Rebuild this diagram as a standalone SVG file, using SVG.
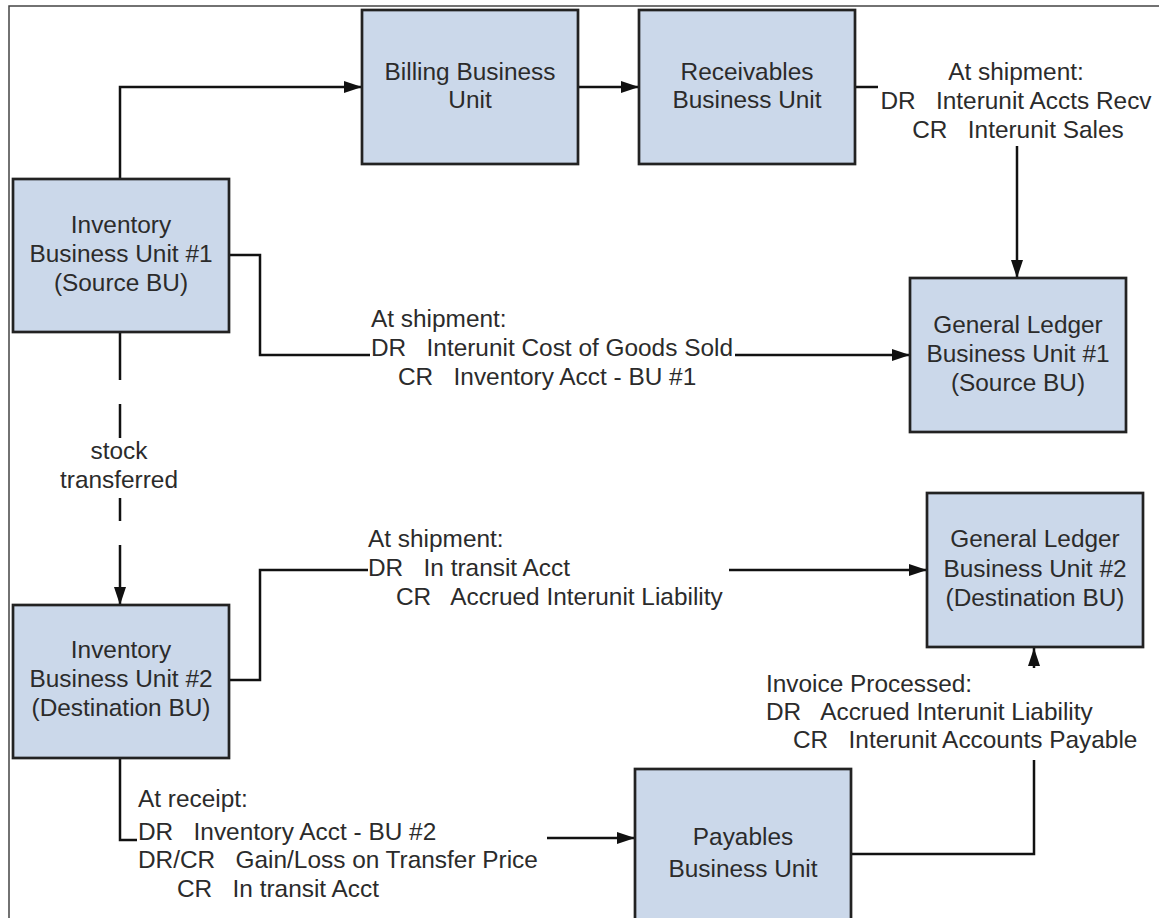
<svg xmlns="http://www.w3.org/2000/svg" width="1159" height="918" viewBox="0 0 1159 918">
<style>
.box{fill:#cbd8ea;stroke:#222;stroke-width:2.7}
.t{font-family:"Liberation Sans",Arial,sans-serif;font-size:24.4px;fill:#2b2b2b;white-space:pre}
.c{text-anchor:middle}
.ln{fill:none;stroke:#111;stroke-width:2.5}
.frame{fill:none;stroke:#444;stroke-width:1.5}
</style>
<defs>
<marker id="ah" viewBox="0 0 18 12" markerWidth="18" markerHeight="12" refX="18" refY="6" orient="auto" markerUnits="userSpaceOnUse">
<path d="M0,0 L18,6 L0,12 z" fill="#111"/>
</marker>
</defs>
<rect width="1159" height="918" fill="#fff"/>
<path class="frame" d="M9,918 V6 H1159"/>

<g id="connectors">
<path class="ln" d="M120,179 V87 H362" marker-end="url(#ah)"/>
<path class="ln" d="M578,87 H639" marker-end="url(#ah)"/>
<path class="ln" d="M855,87 H878"/>
<path class="ln" d="M1017,146 V278" marker-end="url(#ah)"/>
<path class="ln" d="M229,255 H260 V355 H370"/>
<path class="ln" d="M735,355 H910" marker-end="url(#ah)"/>
<path class="ln" d="M120,332 V380 M120,404 V438 M120,498 V521 M120,545 V605" marker-end="url(#ah)"/>
<path class="ln" d="M229,680 H260 V570 H368"/>
<path class="ln" d="M729,570 H927" marker-end="url(#ah)"/>
<path class="ln" d="M120,758 V840 H137"/>
<path class="ln" d="M547,838 H635" marker-end="url(#ah)"/>
<path class="ln" d="M851,854 H1034 V760"/>
<path class="ln" d="M1034,668 V648" marker-end="url(#ah)"/>
</g>

<g id="inv1">
<rect class="box" x="13" y="179" width="216" height="153"/>
<text class="t c" x="121" y="233">Inventory</text>
<text class="t c" x="121" y="262">Business Unit #1</text>
<text class="t c" x="121" y="291">(Source BU)</text>
</g>
<g id="billing">
<rect class="box" x="362" y="10" width="216" height="154"/>
<text class="t c" x="470" y="80">Billing Business</text>
<text class="t c" x="470" y="108">Unit</text>
</g>
<g id="receivables">
<rect class="box" x="639" y="10" width="216" height="154"/>
<text class="t c" x="747" y="80">Receivables</text>
<text class="t c" x="747" y="108">Business Unit</text>
</g>
<g id="gl1">
<rect class="box" x="910" y="278" width="216" height="154"/>
<text class="t c" x="1018" y="333">General Ledger</text>
<text class="t c" x="1018" y="362">Business Unit #1</text>
<text class="t c" x="1018" y="391">(Source BU)</text>
</g>
<g id="inv2">
<rect class="box" x="13" y="605" width="216" height="153"/>
<text class="t c" x="121" y="658">Inventory</text>
<text class="t c" x="121" y="687">Business Unit #2</text>
<text class="t c" x="121" y="716">(Destination BU)</text>
</g>
<g id="gl2">
<rect class="box" x="927" y="493" width="216" height="154"/>
<text class="t c" x="1035" y="547">General Ledger</text>
<text class="t c" x="1035" y="577">Business Unit #2</text>
<text class="t c" x="1035" y="606">(Destination BU)</text>
</g>
<g id="payables">
<rect class="box" x="635" y="769" width="216" height="154"/>
<text class="t c" x="743" y="845">Payables</text>
<text class="t c" x="743" y="877">Business Unit</text>
</g>

<g id="labels">
<text class="t c" x="1016" y="80">At shipment:</text>
<text class="t c" x="1016" y="109" xml:space="preserve">DR   Interunit Accts Recv</text>
<text class="t c" x="1018" y="138" xml:space="preserve">CR   Interunit Sales</text>

<text class="t" x="371" y="327">At shipment:</text>
<text class="t" x="371" y="356" xml:space="preserve">DR   Interunit Cost of Goods Sold</text>
<text class="t" x="398" y="385" xml:space="preserve">CR   Inventory Acct - BU #1</text>

<text class="t c" x="119" y="459">stock</text>
<text class="t c" x="119" y="488">transferred</text>

<text class="t" x="368" y="547">At shipment:</text>
<text class="t" x="368" y="576" xml:space="preserve">DR   In transit Acct</text>
<text class="t" x="396" y="605" xml:space="preserve">CR   Accrued Interunit Liability</text>

<text class="t" x="766" y="692">Invoice Processed:</text>
<text class="t" x="766" y="720" xml:space="preserve">DR   Accrued Interunit Liability</text>
<text class="t" x="793" y="748" xml:space="preserve">CR   Interunit Accounts Payable</text>

<text class="t" x="138" y="807">At receipt:</text>
<text class="t" x="138" y="840" xml:space="preserve">DR   Inventory Acct - BU #2</text>
<text class="t" x="138" y="868" xml:space="preserve">DR/CR   Gain/Loss on Transfer Price</text>
<text class="t" x="177" y="897" xml:space="preserve">CR   In transit Acct</text>
</g>
</svg>
